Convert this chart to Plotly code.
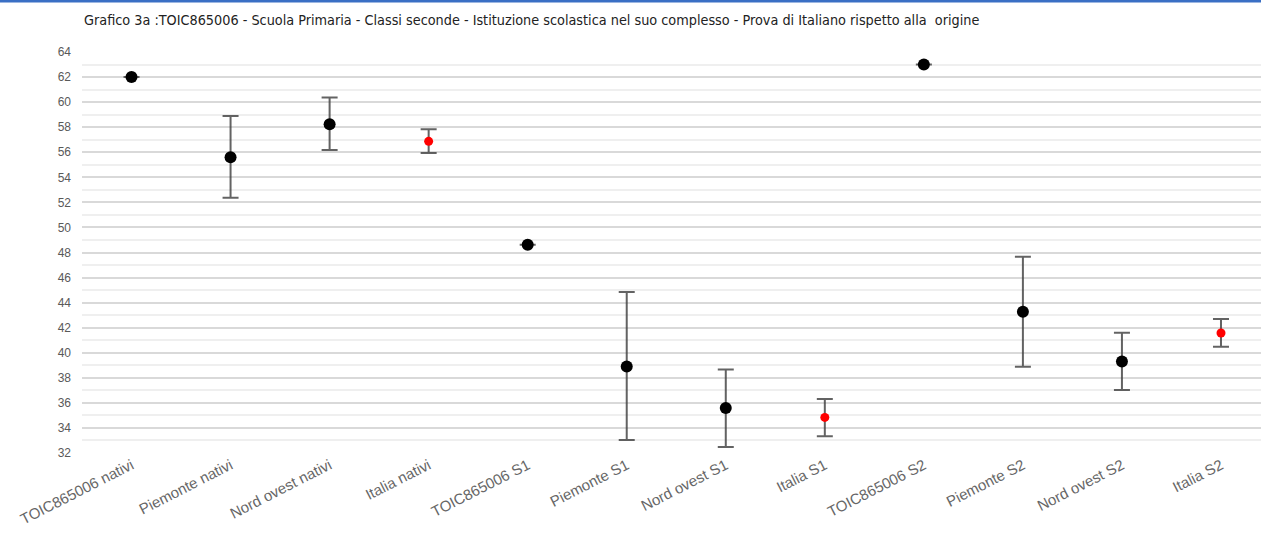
import plotly.graph_objects as go

categories = ["TOIC865006 nativi", "Piemonte nativi", "Nord ovest nativi", "Italia nativi",
              "TOIC865006 S1", "Piemonte S1", "Nord ovest S1", "Italia S1",
              "TOIC865006 S2", "Piemonte S2", "Nord ovest S2", "Italia S2"]
means = [62.0, 55.6, 58.23, 56.87, 48.62, 38.91, 35.59, 34.84, 63.01, 43.28, 39.31, 41.58]
upper = [62.0, 58.9, 60.36, 57.83, 48.62, 44.85, 38.67, 36.31, 63.01, 47.67, 41.6, 42.69]
lower = [62.0, 52.37, 56.18, 55.94, 48.62, 33.04, 32.48, 33.33, 63.01, 38.89, 37.03, 40.48]
marker_colors = ["black", "black", "black", "red"] * 3
marker_sizes = [12, 12, 12, 9] * 3

title_text = ("Grafico 3a :TOIC865006 - Scuola Primaria - Classi seconde - Istituzione scolastica "
              "nel suo complesso - Prova di Italiano rispetto alla  origine")
y_ticks = list(range(32, 65, 2))

x_idx = list(range(len(categories)))
err_plus = [u - m for u, m in zip(upper, means)]
err_minus = [m - l for m, l in zip(means, lower)]

fig = go.Figure()
# error bars
fig.add_trace(go.Scatter(
    x=x_idx, y=means, mode="markers",
    marker=dict(color="rgba(0,0,0,0)", size=1),
    error_y=dict(type="data", symmetric=False, array=err_plus, arrayminus=err_minus,
                 color="rgba(60,60,60,0.8)", thickness=2, width=8),
    showlegend=False, hoverinfo="skip",
))
# markers on top
fig.add_trace(go.Scatter(
    x=x_idx, y=means, mode="markers",
    marker=dict(color=marker_colors, size=marker_sizes, line=dict(width=0), opacity=1),
    showlegend=False,
))

fig.update_layout(
    width=1261, height=540,
    paper_bgcolor="white", plot_bgcolor="white",
    margin=dict(l=82, r=0, t=52, b=87),
    title=dict(text=title_text, x=84 / 1261, xanchor="left", y=1 - 20 / 540, yanchor="middle",
               font=dict(family="DejaVu Sans Condensed, Roboto", size=14.3, color="#222222")),
    font=dict(family="Arial, Liberation Sans", color="#595959"),
    xaxis=dict(
        range=[-0.5, 11.404], tickmode="array", tickvals=x_idx, ticktext=categories,
        tickangle=-27, tickfont=dict(size=15, color="#666666"),
        showgrid=False, zeroline=False, showline=False, ticks="",
    ),
    yaxis=dict(
        range=[32, 64], tickmode="array", tickvals=y_ticks,
        tickfont=dict(size=12, color="#595959"), ticklabelstandoff=10,
        showgrid=True, gridcolor="#d9d9d9", gridwidth=1.5,
        minor=dict(dtick=1, showgrid=True, gridcolor="#efefef", gridwidth=1.5),
        zeroline=False, showline=False, ticks="",
    ),
    shapes=[dict(type="line", xref="paper", yref="paper", x0=-0.1, x1=1.1,
                 y0=1 + 51 / 401, y1=1 + 51 / 401, line=dict(color="#3a6fc4", width=3))],
)

fig.write_html("out.html", config={"displayModeBar": False},
               post_script="document.body.style.margin='0';")
